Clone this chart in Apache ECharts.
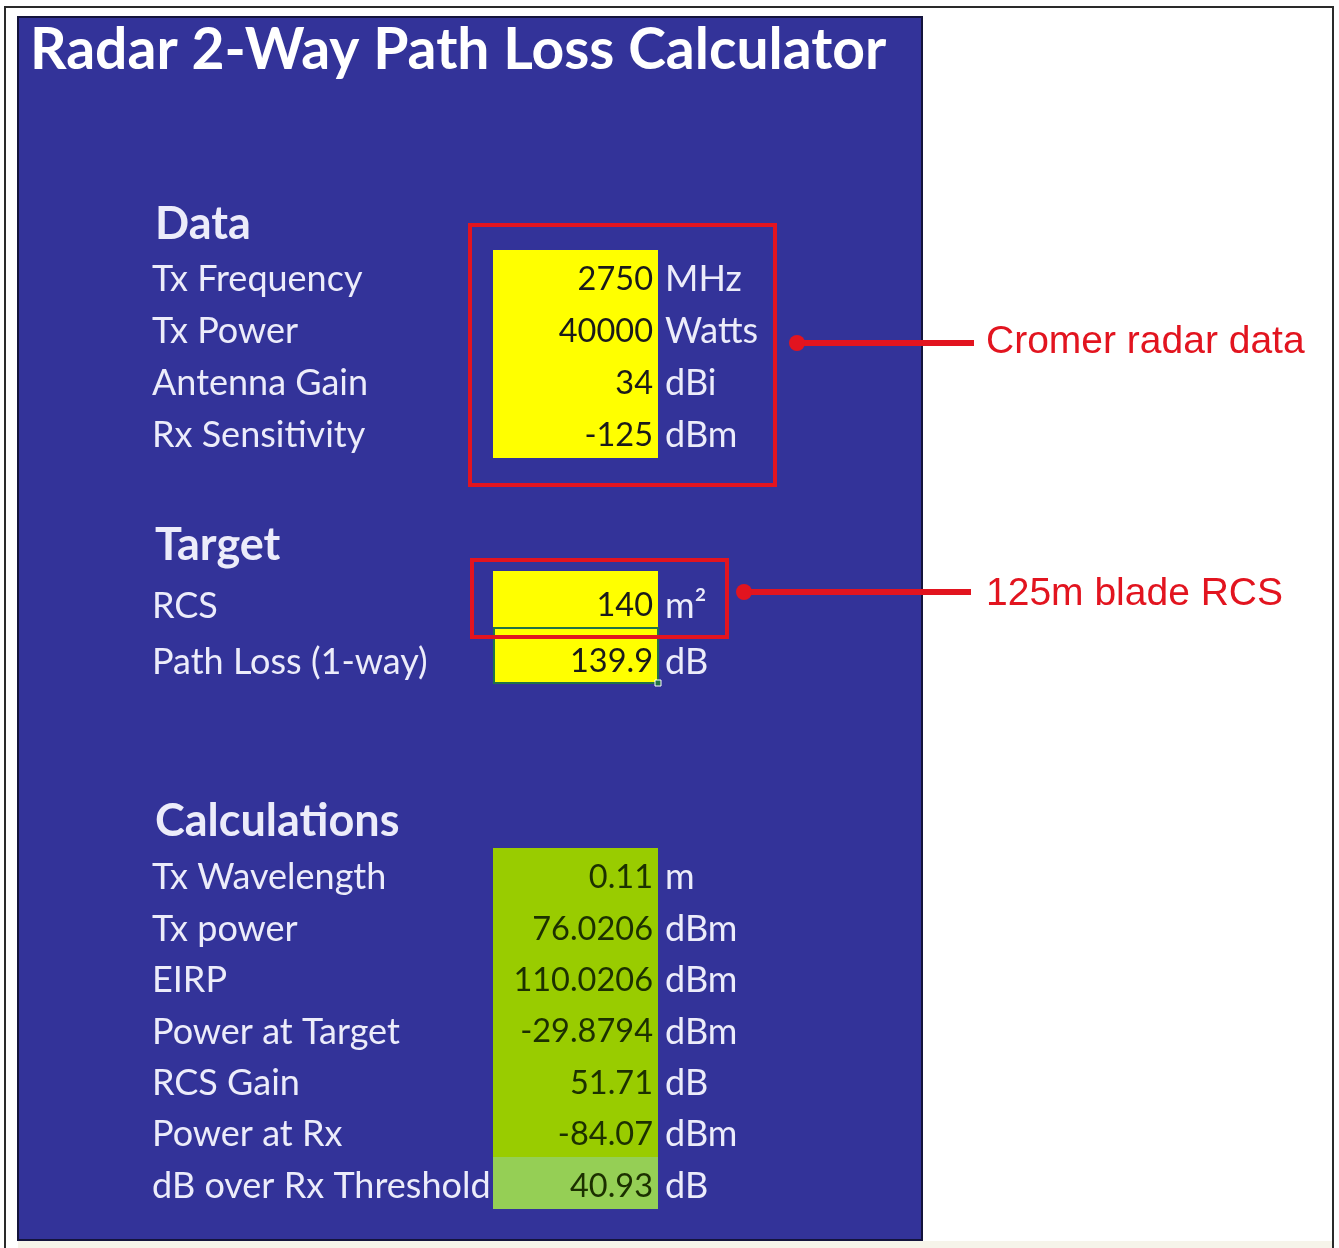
<!DOCTYPE html>
<html><head><meta charset="utf-8">
<script src="https://cdn.jsdelivr.net/npm/echarts@6/dist/echarts.min.js"></script>
<style>html,body{margin:0;padding:0;background:#fff}#c{width:1339px;height:1248px}</style>
</head><body><div id="c"></div>
<script>
// ---------- data ----------
const titleText = 'Radar 2-Way Path Loss Calculator';
const sectionTitles = ['Data', 'Target', 'Calculations'];
const dataLabels = ['Tx Frequency', 'Tx Power', 'Antenna Gain', 'Rx Sensitivity'];
const dataValues = [2750, 40000, 34, -125];
const dataUnits = ['MHz', 'Watts', 'dBi', 'dBm'];
const targetLabels = ['RCS', 'Path Loss (1-way)'];
const targetValues = [140, 139.9];
const targetUnits = ['m²', 'dB'];
const calcLabels = ['Tx Wavelength', 'Tx power', 'EIRP', 'Power at Target', 'RCS Gain', 'Power at Rx', 'dB over Rx Threshold'];
const calcValues = [0.11, 76.0206, 110.0206, -29.8794, 51.71, -84.07, 40.93];
const calcUnits = ['m', 'dBm', 'dBm', 'dBm', 'dB', 'dBm', 'dB'];
const annotationTexts = ['Cromer radar data', '125m blade RCS'];

// ---------- layout / style ----------
const FONT = 'Lato';
const LABEL_SIZE = 36;
const VALUE_SIZE = 32.5;
const WHITE = '#ececfa';
const sections = [
  { title: sectionTitles[0], labels: dataLabels, values: dataValues, units: dataUnits,
    grid: { left: 493, top: 250, width: 165, height: 207 }, headerTop: 202,
    fill: ['#ffff00', '#ffff00', '#ffff00', '#ffff00'], ink: '#1a1a1a', shift: 4, selected: -1 },
  { title: sectionTitles[1], labels: targetLabels, values: targetValues, units: targetUnits,
    grid: { left: 493, top: 571, width: 165, height: 112 }, headerTop: 523,
    fill: ['#ffff00', '#ffff00'], ink: '#1a1a1a', shift: 7, selected: 1 },
  { title: sectionTitles[2], labels: calcLabels, values: calcValues, units: calcUnits,
    grid: { left: 493, top: 848, width: 165, height: 360 }, headerTop: 799,
    fill: ['#99cc00', '#99cc00', '#99cc00', '#99cc00', '#99cc00', '#99cc00', '#95cf55'], ink: '#1c3000', shift: 4, selected: -1 }
];

const option = {
  backgroundColor: '#ffffff',
  animation: false,
  title: [{
    text: titleText, left: 30, top: 22, padding: 0,
    textStyle: { color: '#ffffff', fontFamily: FONT, fontWeight: 'bold', fontSize: 57 }
  }].concat(sections.map(s => ({
    text: s.title, left: 155, top: s.headerTop, padding: 0,
    textStyle: { color: WHITE, fontFamily: FONT, fontWeight: 'bold', fontSize: 45 }
  }))),
  grid: sections.map(s => Object.assign({ containLabel: false }, s.grid)),
  xAxis: sections.map((s, k) => ({
    type: 'category', gridIndex: k, data: ['value'], show: false
  })),
  yAxis: [],
  series: [],
  graphic: []
};

sections.forEach((s, k) => {
  const lab = { color: WHITE, fontFamily: FONT, fontSize: LABEL_SIZE,
    verticalAlign: 'top', lineHeight: 2 * s.shift };
  option.yAxis.push({
    type: 'category', gridIndex: k, inverse: true, data: s.labels, position: 'left',
    axisLine: { show: false }, axisTick: { show: false }, splitLine: { show: false },
    axisLabel: Object.assign({ align: 'left', margin: 341 }, lab)
  });
  option.yAxis.push({
    type: 'category', gridIndex: k, inverse: true, data: s.units, position: 'right',
    axisLine: { show: false }, axisTick: { show: false }, splitLine: { show: false },
    axisLabel: Object.assign({ align: 'left', margin: 7 }, lab)
  });
  option.series.push({
    type: 'custom', xAxisIndex: k, yAxisIndex: 2 * k,
    data: s.values.map((v, i) => [0, i, v]),
    encode: { x: 0, y: 1 },
    renderItem: function (params, api) {
      const i = api.value(1);
      const c = api.coord([0, i]);
      const sz = api.size([1, 1]);
      const x0 = Math.round(c[0] - sz[0] / 2), y0 = Math.round(c[1] - sz[1] / 2);
      const w = Math.round(sz[0]), h = Math.round(sz[1]);
      const children = [{
        type: 'rect', shape: { x: x0, y: y0, width: w, height: h + 1 },
        style: { fill: s.fill[i] }
      }, {
        type: 'text',
        style: { text: String(s.values[i]), x: x0 + w - 5, y: c[1] + s.shift,
          align: 'right', verticalAlign: 'middle', fill: s.ink,
          fontFamily: FONT, fontSize: VALUE_SIZE }
      }];
      if (i === s.selected) {
        children.push({
          type: 'rect', shape: { x: x0 + 1, y: y0 + 1, width: w - 1, height: h - 1 },
          style: { fill: 'none', stroke: '#217346', lineWidth: 2 }
        });
        children.push({
          type: 'rect', shape: { x: x0 + w - 3, y: y0 + h - 3, width: 6, height: 6 },
          style: { fill: '#217346', stroke: '#ffffff', lineWidth: 1 }
        });
      }
      return { type: 'group', children: children };
    }
  });
});

const RED = '#e2141f';
option.graphic = [
  { type: 'rect', z: -20, silent: true, shape: { x: 5, y: 7, width: 1328, height: 1262 },
    style: { fill: '#ffffff', stroke: '#2a2a2a', lineWidth: 2 } },
  { type: 'rect', z: -19, silent: true, shape: { x: 18, y: 1241, width: 1314, height: 10 },
    style: { fill: '#f6f4ea' } },
  { type: 'rect', z: -18, silent: true, shape: { x: 18, y: 17, width: 904, height: 1223 },
    style: { fill: '#333399', stroke: '#14143c', lineWidth: 2 } },
  // annotation boxes
  { type: 'rect', z: 50, silent: true, shape: { x: 470, y: 225, width: 305, height: 260 },
    style: { fill: 'none', stroke: RED, lineWidth: 4 } },
  { type: 'rect', z: 50, silent: true, shape: { x: 472, y: 560, width: 255, height: 77 },
    style: { fill: 'none', stroke: RED, lineWidth: 4 } },
  // arrows
  { type: 'line', z: 50, silent: true, shape: { x1: 790, y1: 343, x2: 974, y2: 343 },
    style: { stroke: RED, lineWidth: 6 } },
  { type: 'circle', z: 50, silent: true, shape: { cx: 797, cy: 343, r: 8 }, style: { fill: RED } },
  { type: 'line', z: 50, silent: true, shape: { x1: 737, y1: 592, x2: 971, y2: 592 },
    style: { stroke: RED, lineWidth: 6 } },
  { type: 'circle', z: 50, silent: true, shape: { cx: 744, cy: 592, r: 8 }, style: { fill: RED } },
  { type: 'text', z: 50, silent: true, x: 986, y: 342,
    style: { text: annotationTexts[0], fill: RED, fontFamily: 'Liberation Sans', fontSize: 39,
      verticalAlign: 'middle', align: 'left' } },
  { type: 'text', z: 50, silent: true, x: 986, y: 594,
    style: { text: annotationTexts[1], fill: RED, fontFamily: 'Liberation Sans', fontSize: 39,
      verticalAlign: 'middle', align: 'left' } }
];

const chart = echarts.init(document.getElementById('c'), null, { renderer: 'canvas' });
chart.setOption(option);
</script>
</body></html>
